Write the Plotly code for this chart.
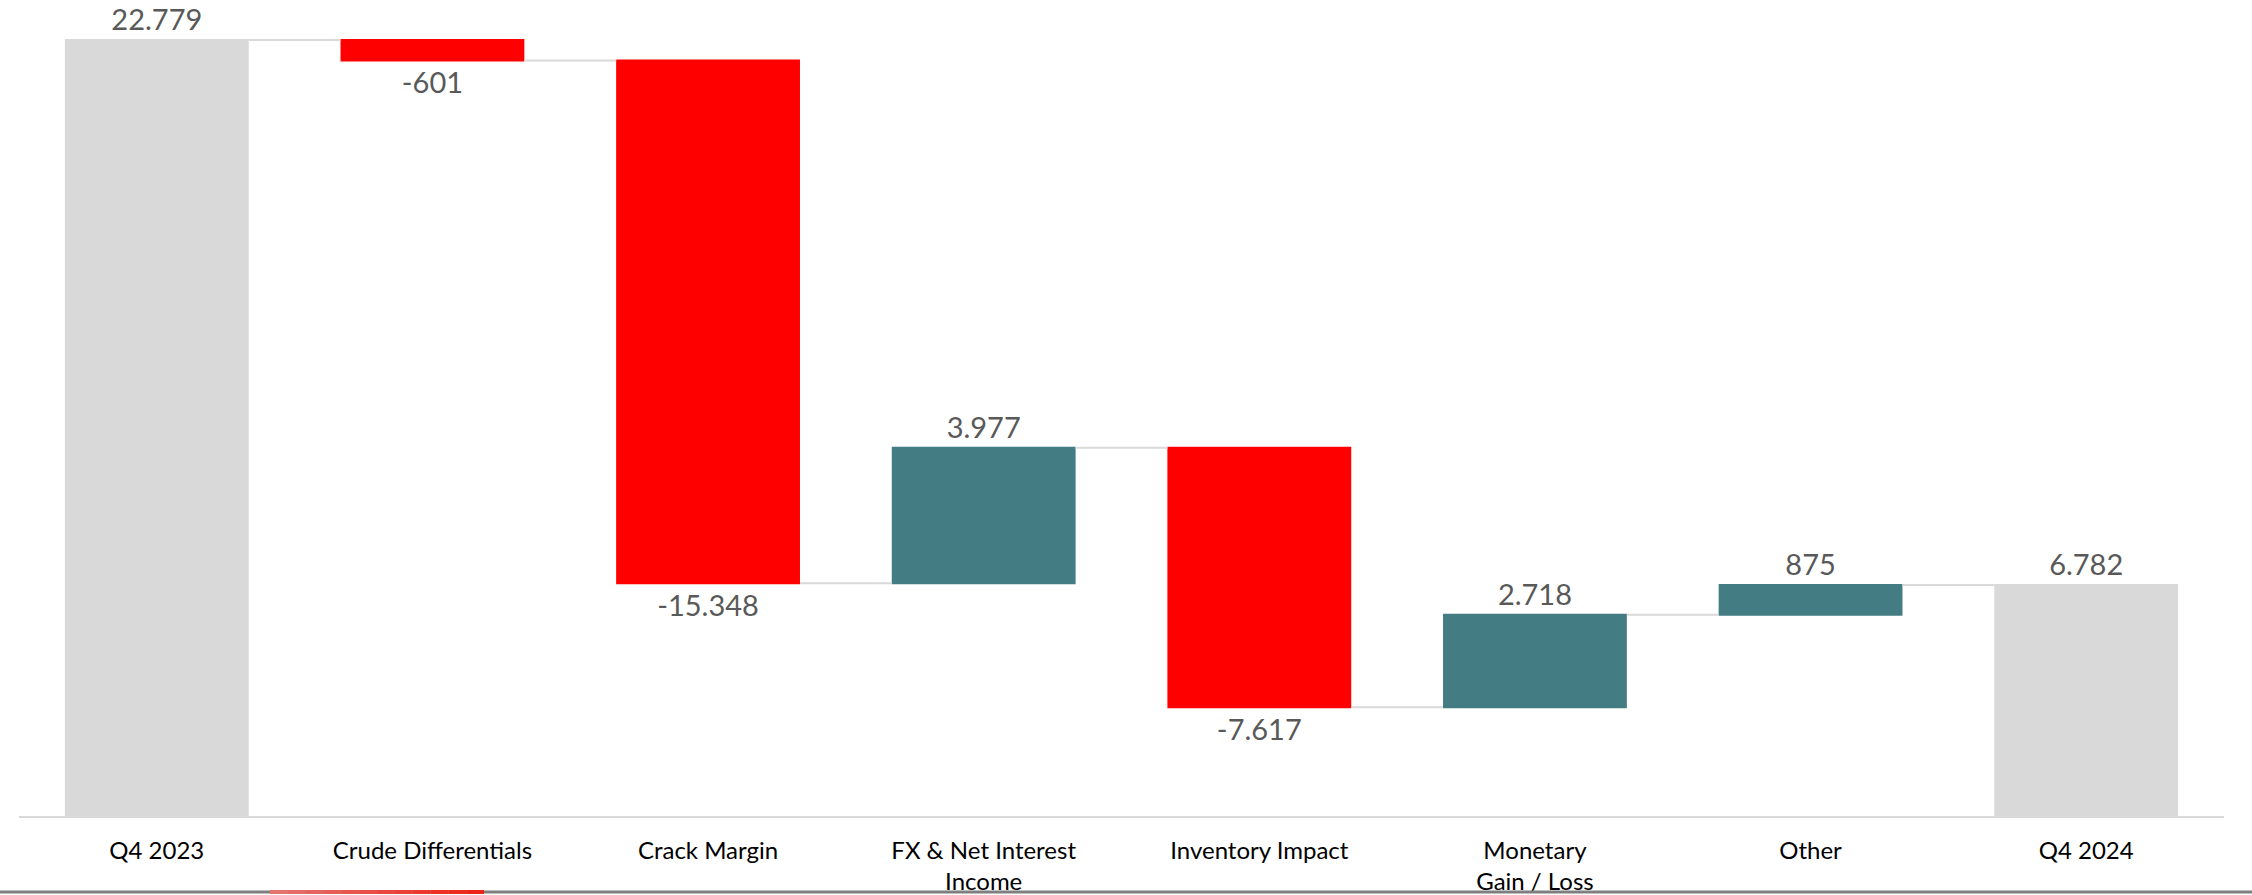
import plotly.graph_objects as go

categories = ["Q4 2023", "Crude Differentials", "Crack Margin", "FX & Net Interest<br>Income",
              "Inventory Impact", "Monetary<br>Gain / Loss", "Other", "Q4 2024"]
values = [22779, -601, -15348, 3977, -7617, 2718, 875, 6782]
measures = ["absolute", "relative", "relative", "relative", "relative", "relative", "relative", "total"]


def fmt(v):
    s = f"{abs(v):,}".replace(",", ".")
    return ("-" if v < 0 else "") + s


labels = [fmt(v) for v in values]

W, H = 2252, 895
ML, MR, MT, MB = 19, 28, 0, 79

fig = go.Figure(go.Waterfall(
    x=categories,
    y=values,
    measure=measures,
    text=labels,
    textposition="outside",
    textfont=dict(family="Lato", size=29, color="#595959"),
    cliponaxis=False,
    width=0.667,
    increasing=dict(marker=dict(color="#437D83")),
    decreasing=dict(marker=dict(color="#FF0000")),
    totals=dict(marker=dict(color="#D9D9D9")),
    connector=dict(mode="between", line=dict(color="#D9D9D9", width=2)),
    hoverinfo="skip",
))

ymax = 22779 * 816 / 776

fig.update_layout(
    width=W, height=H,
    margin=dict(l=ML, r=MR, t=MT, b=MB),
    paper_bgcolor="white", plot_bgcolor="white",
    showlegend=False,
    xaxis=dict(showgrid=False, showline=True, linecolor="#D9D9D9", linewidth=2,
               ticks="", ticklabelstandoff=12,
               tickfont=dict(family="Lato", size=24, color="#000000"),
               range=[-0.5, 7.5], zeroline=False),
    yaxis=dict(visible=False, range=[0, ymax], showgrid=False, zeroline=False),
)

# footer rule of the slide
plot_w = W - ML - MR
plot_h = H - MT - MB
yline = (816 - 892) / plot_h
fig.add_shape(type="line", xref="paper", yref="paper", x0=-ML / plot_w, x1=(W - ML) / plot_w,
              y0=yline, y1=yline, line=dict(color="#7F7F7F", width=3), layer="above")
# red gradient accent
n = 12
x_start, x_end = 270, 484
c0, c1 = (229, 115, 110), (238, 36, 24)
for i in range(n):
    a = x_start + (x_end - x_start) * i / n
    b = x_start + (x_end - x_start) * (i + 1) / n
    t = i / (n - 1)
    col = tuple(int(c0[k] + (c1[k] - c0[k]) * t) for k in range(3))
    fig.add_shape(type="line", xref="paper", yref="paper",
                  x0=(a - ML) / plot_w, x1=(b - ML) / plot_w, y0=yline, y1=yline,
                  line=dict(color=f"rgb{col}", width=4), layer="above")

fig.write_html("out.html", config={"displayModeBar": False, "staticPlot": True})

with open("out.html", "r", encoding="utf-8") as f:
    html = f.read()
html = html.replace("<head>", "<head><style>html,body{margin:0;padding:0;overflow:hidden;}</style>", 1)
with open("out.html", "w", encoding="utf-8") as f:
    f.write(html)
